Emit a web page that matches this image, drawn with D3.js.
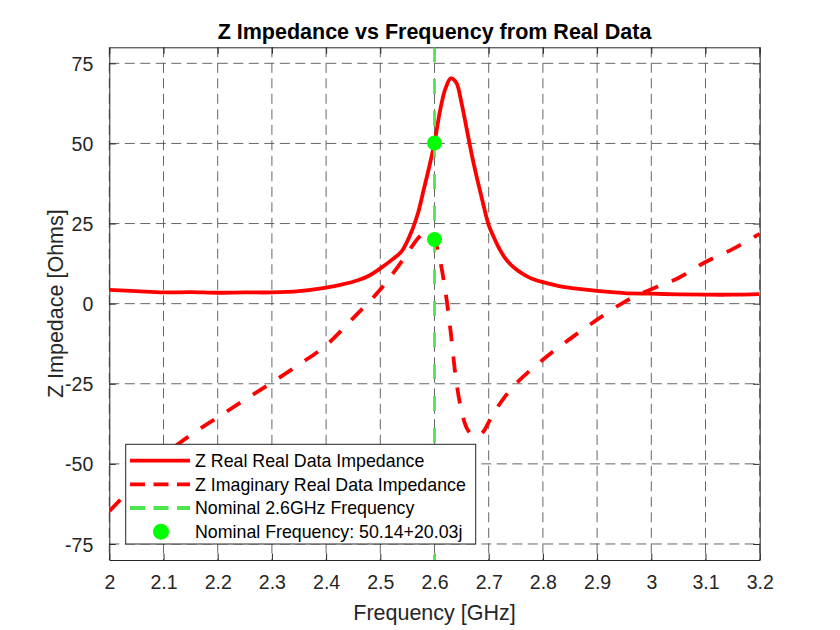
<!DOCTYPE html>
<html>
<head>
<meta charset="utf-8">
<script src="https://cdn.jsdelivr.net/npm/d3@7/dist/d3.min.js"></script>
<style>
  body { margin: 0; background: #fff; }
  text { font-family: "Liberation Sans", Arial, Helvetica, sans-serif; }
</style>
</head>
<body>
<svg id="chart" width="840" height="630"></svg>
<script>
// ---- data ----
const realFreq = [2.00, 2.05, 2.10, 2.15, 2.20, 2.25, 2.30, 2.35, 2.40, 2.43, 2.46, 2.48, 2.50, 2.52, 2.54, 2.56, 2.57, 2.58, 2.59, 2.60, 2.61, 2.62, 2.63, 2.64, 2.65, 2.66, 2.67, 2.68, 2.69, 2.70, 2.71, 2.72, 2.73, 2.74, 2.75, 2.76, 2.77, 2.78, 2.80, 2.83, 2.87, 2.91, 2.95, 3.00, 3.05, 3.10, 3.15, 3.20];
const realZ    = [4.3, 3.9, 3.5, 3.6, 3.4, 3.5, 3.5, 3.9, 5.0, 6.0, 7.4, 8.8, 11.0, 13.5, 16.5, 23.5, 28.5, 35.5, 42.5, 50.14, 60.0, 67.0, 70.3, 69.0, 62.5, 54.0, 45.5, 38.0, 31.0, 24.5, 20.5, 17.0, 14.3, 12.3, 10.8, 9.6, 8.6, 7.8, 6.7, 5.5, 4.5, 3.8, 3.3, 3.1, 2.9, 2.8, 2.8, 3.0];

const imagFreq = [2.00, 2.05, 2.10, 2.15, 2.20, 2.25, 2.30, 2.35, 2.40, 2.45, 2.50, 2.54, 2.57, 2.58, 2.59, 2.60, 2.61, 2.62, 2.63, 2.64, 2.65, 2.66, 2.67, 2.68, 2.69, 2.70, 2.71, 2.73, 2.75, 2.80, 2.85, 2.90, 2.95, 2.98, 3.02, 3.05, 3.10, 3.15, 3.20];
const imagZ    = [-64.8, -56.0, -47.5, -41.0, -35.5, -30.0, -24.6, -19.0, -13.0, -4.5, 4.4, 13.3, 20.5, 22.0, 22.6, 20.03, 13.7, 4.0, -9.0, -24.0, -33.5, -39.0, -41.0, -41.3, -40.0, -37.0, -34.0, -29.0, -25.0, -17.5, -11.0, -5.0, 0.5, 3.0, 5.9, 8.0, 13.0, 17.0, 21.8];

const nominalFreq = 2.6;
const nominalPoints = [50.14, 20.03];

const xTicks = [2, 2.1, 2.2, 2.3, 2.4, 2.5, 2.6, 2.7, 2.8, 2.9, 3, 3.1, 3.2];
const yTicks = [-75, -50, -25, 0, 25, 50, 75];

const legendLabels = ["Z Real Real Data Impedance", "Z Imaginary Real Data Impedance", "Nominal 2.6GHz Frequency", "Nominal Frequency: 50.14+20.03j"];

const titleText = "Z Impedance vs Frequency from Real Data";
const xLabelText = "Frequency [GHz]";
const yLabelText = "Z Impedace [Ohms]";

// ---- layout ----
const L = 109.3, R = 759.7, T = 47.3, B = 560;
const axisColor = "#262626";
const gridColor = "#555555";
const svg = d3.select("#chart");

const x = d3.scaleLinear().domain([2, 3.2]).range([L, R]);
const y = d3.scaleLinear().domain([-80, 80]).range([B, T]);

svg.append("defs").append("clipPath").attr("id", "clip")
  .append("rect").attr("x", L).attr("y", T).attr("width", R - L).attr("height", B - T);

// grid
const grid = svg.append("g");
grid.selectAll("line.gx").data(xTicks).join("line")
  .attr("x1", d => x(d)).attr("x2", d => x(d)).attr("y1", T).attr("y2", B)
  .attr("stroke", gridColor).attr("stroke-width", 0.9).attr("stroke-dasharray", "10,5.5");
grid.selectAll("line.gy").data(yTicks).join("line")
  .attr("y1", d => y(d)).attr("y2", d => y(d)).attr("x1", L).attr("x2", R)
  .attr("stroke", gridColor).attr("stroke-width", 0.9).attr("stroke-dasharray", "10,5.5");

// axes
const fmt = d => String(d);
const xAxis = svg.append("g").attr("transform", `translate(0,${B})`)
  .call(d3.axisBottom(x).tickValues(xTicks).tickFormat(fmt).tickSizeInner(-6.5).tickSizeOuter(0).tickPadding(15));
const xAxisTop = svg.append("g").attr("transform", `translate(0,${T})`)
  .call(d3.axisTop(x).tickValues(xTicks).tickFormat("").tickSizeInner(-6.5).tickSizeOuter(0));
const yAxis = svg.append("g").attr("transform", `translate(${L},0)`)
  .call(d3.axisLeft(y).tickValues(yTicks).tickFormat(fmt).tickSizeInner(-6.5).tickSizeOuter(0).tickPadding(16));
const yAxisRight = svg.append("g").attr("transform", `translate(${R},0)`)
  .call(d3.axisRight(y).tickValues(yTicks).tickFormat("").tickSizeInner(-6.5).tickSizeOuter(0));

[xAxis, xAxisTop, yAxis, yAxisRight].forEach(g => {
  g.select(".domain").attr("stroke", axisColor).attr("stroke-width", 1);
  g.selectAll(".tick line").attr("stroke", axisColor).attr("stroke-width", 1);
  g.selectAll(".tick text").attr("fill", axisColor).style("font-size", "19.5px")
    .style("font-family", '"Liberation Sans", Arial, sans-serif');
});
yAxis.selectAll(".tick text").attr("dy", "0.36em");

// lines
const plot = svg.append("g").attr("clip-path", "url(#clip)");
const line = d3.line().x(d => x(d[0])).y(d => y(d[1])).curve(d3.curveCatmullRom.alpha(0.5));
const realData = realFreq.map((f, i) => [f, realZ[i]]);
const imagData = imagFreq.map((f, i) => [f, imagZ[i]]);

plot.append("path").datum(realData).attr("d", line)
  .attr("fill", "none").attr("stroke", "#ff0000").attr("stroke-width", 3.8).attr("stroke-linejoin", "round");
plot.append("path").datum(imagData).attr("d", line)
  .attr("fill", "none").attr("stroke", "#ff0000").attr("stroke-width", 3.8).attr("stroke-dasharray", "16,15");

// nominal vertical line
plot.append("line")
  .attr("x1", x(nominalFreq)).attr("x2", x(nominalFreq)).attr("y1", T).attr("y2", B)
  .attr("stroke", "#4de64d").attr("stroke-width", 2.8).attr("stroke-dasharray", "15,16.7");

// markers
plot.selectAll("circle.nom").data(nominalPoints).join("circle")
  .attr("cx", x(nominalFreq)).attr("cy", d => y(d)).attr("r", 7.5).attr("fill", "#00ff00");

// title & labels
svg.append("text").attr("x", (L + R) / 2).attr("y", 38.5).attr("text-anchor", "middle")
  .style("font-size", "21.5px").style("font-weight", "bold").attr("fill", "#000").text(titleText);
svg.append("text").attr("x", (L + R) / 2).attr("y", 620).attr("text-anchor", "middle")
  .style("font-size", "21.5px").attr("fill", axisColor).text(xLabelText);
svg.append("text").attr("transform", `translate(63,${(T + B) / 2}) rotate(-90)`).attr("text-anchor", "middle")
  .style("font-size", "21.5px").attr("fill", axisColor).text(yLabelText);

// legend
const lg = svg.append("g");
const lgX = 125.7, lgY = 444.3, lgW = 350, lgH = 99.7;
lg.append("rect").attr("x", lgX).attr("y", lgY).attr("width", lgW).attr("height", lgH)
  .attr("fill", "#fff").attr("stroke", axisColor).attr("stroke-width", 1);
const rowY = [460.7, 484.3, 508, 531.7];
lg.append("line").attr("x1", 130).attr("x2", 190).attr("y1", rowY[0]).attr("y2", rowY[0])
  .attr("stroke", "#ff0000").attr("stroke-width", 3.8);
lg.append("line").attr("x1", 130).attr("x2", 190).attr("y1", rowY[1]).attr("y2", rowY[1])
  .attr("stroke", "#ff0000").attr("stroke-width", 3.8).attr("stroke-dasharray", "15,8.5");
lg.append("line").attr("x1", 130).attr("x2", 190).attr("y1", rowY[2]).attr("y2", rowY[2])
  .attr("stroke", "#4de64d").attr("stroke-width", 3.8).attr("stroke-dasharray", "15,8.5");
lg.append("circle").attr("cx", 161).attr("cy", rowY[3]).attr("r", 8).attr("fill", "#00ff00");
lg.selectAll("text.lt").data(legendLabels).join("text")
  .attr("x", 195).attr("y", (d, i) => rowY[i]).attr("dy", "0.36em")
  .style("font-size", "17.8px").attr("fill", "#000").text(d => d);
</script>
</body>
</html>
